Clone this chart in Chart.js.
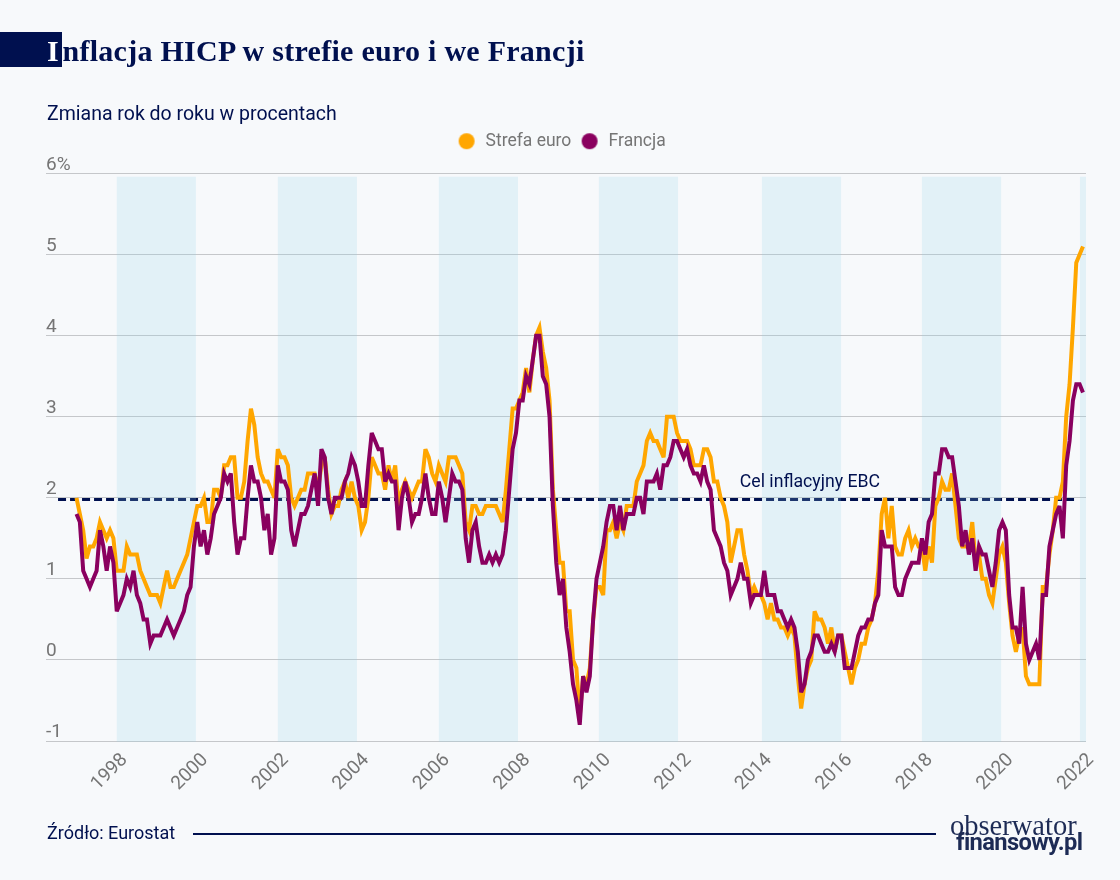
<!DOCTYPE html>
<html lang="pl">
<head>
<meta charset="utf-8">
<title>Inflacja HICP</title>
<script src="https://cdn.jsdelivr.net/npm/chart.js@4"></script>
<style>
  html, body { margin: 0; padding: 0; background: #f7f9fb; }
  #page { position: relative; width: 1120px; height: 880px; overflow: hidden; }
  #chart { position: absolute; left: 0; top: 0; }
  .txt { position: absolute; white-space: nowrap; color: #00104f; }
  #marker { position: absolute; left: 0; top: 32px; width: 62px; height: 35px; background: #00104f; }
  #title { left: 47px; top: 32px; font: bold 30px/38px "Liberation Serif", serif; letter-spacing: 0.27px; }
  #title span { color: #fff; margin-right: 3.5px; }
  #subtitle { left: 47px; top: 102px; font: 19.5px/24px Roboto, sans-serif; }
  #source { left: 47px; top: 822px; font: 18px/22px Roboto, sans-serif; }
  #rule { position: absolute; left: 193px; top: 833px; width: 743px; height: 1.5px; background: #00104f; }
  #logo1 { left: 950px; top: 812px; font: 28.5px/28px "Liberation Serif", serif; color: #1d2b55; }
  #logo2 { left: 956px; top: 828px; font: bold 23.7px/28px "Roboto", sans-serif; color: #1d2b55; letter-spacing: -0.6px; }
</style>
</head>
<body>
<div id="page">
  <canvas id="chart" width="1120" height="880"></canvas>
  <div id="marker"></div>
  <div class="txt" id="title"><span>I</span>nflacja HICP w strefie euro i we Francji</div>
  <div class="txt" id="subtitle">Zmiana rok do roku w procentach</div>
  <div class="txt" id="source">Źródło: Eurostat</div>
  <div id="rule"></div>
  <div class="txt" id="logo1">obserwator</div>
  <div class="txt" id="logo2">finansowy.pl</div>
</div>
<script>
// Monthly values from Jan 1997 to Jan 2022, one row per year
const euroArea = [
  2.0, 1.8, 1.6, 1.25, 1.4, 1.4, 1.5, 1.7, 1.6, 1.5, 1.6, 1.5,
  1.1, 1.1, 1.1, 1.4, 1.3, 1.3, 1.3, 1.1, 1.0, 0.9, 0.8, 0.8,
  0.8, 0.7, 0.9, 1.1, 0.9, 0.9, 1.0, 1.1, 1.2, 1.3, 1.5, 1.7,
  1.9, 1.9, 2.0, 1.7, 1.7, 2.1, 2.1, 2.0, 2.4, 2.4, 2.5, 2.5,
  2.0, 2.0, 2.2, 2.7, 3.1, 2.9, 2.5, 2.3, 2.2, 2.2, 2.1, 2.0,
  2.6, 2.5, 2.5, 2.4, 2.0, 1.9, 2.0, 2.1, 2.1, 2.3, 2.3, 2.3,
  2.1, 2.4, 2.5, 2.1, 1.8, 1.9, 1.9, 2.1, 2.2, 2.0, 2.2, 2.0,
  1.9, 1.6, 1.7, 2.0, 2.5, 2.4, 2.3, 2.3, 2.1, 2.4, 2.2, 2.4,
  1.9, 2.1, 2.2, 2.1, 2.0, 2.1, 2.2, 2.2, 2.6, 2.5, 2.3, 2.2,
  2.4, 2.3, 2.2, 2.5, 2.5, 2.5, 2.4, 2.3, 1.7, 1.6, 1.9, 1.9,
  1.8, 1.8, 1.9, 1.9, 1.9, 1.9, 1.8, 1.7, 2.1, 2.6, 3.1, 3.1,
  3.2, 3.3, 3.6, 3.3, 3.7, 4.0, 4.1, 3.8, 3.6, 3.2, 2.1, 1.6,
  1.2, 1.2, 0.6, 0.6, 0.0, -0.1, -0.7, -0.2, -0.3, -0.1, 0.5, 0.9,
  0.9, 0.8, 1.6, 1.6, 1.7, 1.5, 1.7, 1.6, 1.9, 1.9, 1.9, 2.2,
  2.3, 2.4, 2.7, 2.8, 2.7, 2.7, 2.6, 2.5, 3.0, 3.0, 3.0, 2.8,
  2.7, 2.7, 2.7, 2.6, 2.4, 2.4, 2.4, 2.6, 2.6, 2.5, 2.2, 2.2,
  2.0, 1.9, 1.7, 1.2, 1.4, 1.6, 1.6, 1.3, 1.1, 0.8, 0.9, 0.8,
  0.8, 0.7, 0.5, 0.7, 0.5, 0.5, 0.4, 0.4, 0.3, 0.4, 0.3, -0.2,
  -0.6, -0.3, -0.1, 0.0, 0.6, 0.5, 0.5, 0.4, 0.2, 0.4, 0.1, 0.3,
  0.3, 0.1, -0.1, -0.3, -0.1, 0.0, 0.2, 0.2, 0.4, 0.5, 0.7, 1.1,
  1.8, 2.0, 1.5, 1.9, 1.4, 1.3, 1.3, 1.5, 1.6, 1.4, 1.5, 1.4,
  1.4, 1.1, 1.4, 1.2, 1.9, 2.0, 2.2, 2.1, 2.1, 2.3, 1.9, 1.5,
  1.4, 1.4, 1.4, 1.7, 1.2, 1.3, 1.0, 1.0, 0.8, 0.7, 1.0, 1.3,
  1.4, 1.2, 0.7, 0.3, 0.1, 0.3, 0.4, -0.2, -0.3, -0.3, -0.3, -0.3,
  0.9, 0.9, 1.3, 1.6, 2.0, 2.0, 2.2, 3.0, 3.4, 4.1, 4.9, 5.0,
  5.1
];
const france = [
  1.8, 1.7, 1.1, 1.0, 0.9, 1.0, 1.1, 1.6, 1.4, 1.1, 1.4, 1.2,
  0.6, 0.7, 0.8, 1.0, 0.9, 1.1, 0.8, 0.7, 0.5, 0.5, 0.2, 0.3,
  0.3, 0.3, 0.4, 0.5, 0.4, 0.3, 0.4, 0.5, 0.6, 0.8, 0.9, 1.4,
  1.7, 1.4, 1.6, 1.3, 1.5, 1.8, 1.9, 2.0, 2.3, 2.2, 2.3, 1.7,
  1.3, 1.5, 1.5, 2.0, 2.4, 2.2, 2.2, 2.0, 1.6, 1.8, 1.3, 1.5,
  2.4, 2.2, 2.2, 2.1, 1.6, 1.4, 1.6, 1.8, 1.8, 1.9, 2.1, 2.3,
  1.9, 2.6, 2.5, 2.0, 1.8, 2.0, 2.0, 2.0, 2.2, 2.3, 2.5, 2.4,
  2.2, 1.9, 1.9, 2.4, 2.8, 2.7, 2.6, 2.6, 2.2, 2.3, 2.2, 2.2,
  1.6, 2.0, 2.2, 2.0, 1.7, 1.8, 1.8, 2.0, 2.3, 2.0, 1.8, 1.8,
  2.2, 2.0, 1.7, 2.0, 2.3, 2.2, 2.2, 2.1, 1.5, 1.2, 1.6, 1.7,
  1.4, 1.2, 1.2, 1.3, 1.2, 1.3, 1.2, 1.3, 1.6, 2.1, 2.6, 2.8,
  3.2, 3.2, 3.5, 3.4, 3.7, 4.0, 4.0, 3.5, 3.4, 3.0, 1.9, 1.2,
  0.8, 1.0, 0.4, 0.1, -0.3, -0.5, -0.8, -0.2, -0.4, -0.2, 0.5, 1.0,
  1.2, 1.4, 1.7, 1.9, 1.9, 1.6, 1.9, 1.6, 1.8, 1.8, 1.8, 2.0,
  2.0, 1.8, 2.2, 2.2, 2.2, 2.3, 2.1, 2.4, 2.4, 2.5, 2.7, 2.7,
  2.6, 2.5, 2.6, 2.4, 2.3, 2.3, 2.2, 2.4, 2.2, 2.1, 1.6, 1.5,
  1.4, 1.2, 1.1, 0.8, 0.9, 1.0, 1.2, 1.0, 1.0, 0.7, 0.8, 0.8,
  0.8, 1.1, 0.8, 0.8, 0.8, 0.6, 0.6, 0.5, 0.4, 0.5, 0.4, 0.1,
  -0.4, -0.3, 0.0, 0.1, 0.3, 0.3, 0.2, 0.1, 0.1, 0.2, 0.1, 0.3,
  0.3, -0.1, -0.1, -0.1, 0.1, 0.3, 0.4, 0.4, 0.5, 0.5, 0.7, 0.8,
  1.6, 1.4, 1.4, 1.4, 0.9, 0.8, 0.8, 1.0, 1.1, 1.2, 1.2, 1.2,
  1.5, 1.3, 1.7, 1.8, 2.3, 2.3, 2.6, 2.6, 2.5, 2.5, 2.2, 1.9,
  1.4, 1.6, 1.3, 1.5, 1.1, 1.4, 1.3, 1.3, 1.1, 0.9, 1.2, 1.6,
  1.7, 1.6, 0.8, 0.4, 0.4, 0.2, 0.9, 0.2, 0.0, 0.1, 0.2, 0.0,
  0.8, 0.8, 1.4, 1.6, 1.8, 1.9, 1.5, 2.4, 2.7, 3.2, 3.4, 3.4,
  3.3
];

// x axis works in months counted from Jan 1997
const yearMonths = [12, 36, 60, 84, 108, 132, 156, 180, 204, 228, 252, 276, 300];
const yearLabels = ['1998', '2000', '2002', '2004', '2006', '2008', '2010', '2012', '2014', '2016', '2018', '2020', '2022'];
const bandStarts = [12, 60, 108, 155.7, 204.3, 252, 299.1];
const bandEnds = [35.6, 83.6, 131.6, 179.3, 227.9, 275.6, 300.9];
const targetMonths = [-5.5, 297.4];
const targetValues = [1.98, 1.98];
const seriesNames = ['Strefa euro', 'Francja'];
const targetLabel = 'Cel inflacyjny EBC';

const toPoints = values => values.map((v, i) => ({ x: i, y: v }));

// Legend dot as a small canvas, so the gap to the text can be set apart from its size
function legendDot(color) {
  const dot = document.createElement('canvas');
  dot.width = 18;
  dot.height = 18;
  const c = dot.getContext('2d');
  c.fillStyle = color;
  c.beginPath();
  c.arc(9, 9, 8, 0, Math.PI * 2);
  c.fill();
  return dot;
}

// Shaded bands sit above the dashed target line but under both series
const bandsPlugin = {
  id: 'bands',
  beforeDatasetsDraw(chart) {
    chart.ctx.miterLimit = 4;
  },
  beforeDatasetDraw(chart, args) {
    if (args.index !== 0) return;
    const { ctx, scales: { x, y } } = chart;
    const top = y.getPixelForValue(5.96);
    const bottom = y.getPixelForValue(-1.01);
    ctx.save();
    ctx.fillStyle = 'rgba(145, 210, 235, 0.2)';
    bandStarts.forEach((start, i) => {
      const left = x.getPixelForValue(start);
      ctx.fillRect(left, top, x.getPixelForValue(bandEnds[i]) - left, bottom - top);
    });
    ctx.restore();
  }
};

const targetLabelPlugin = {
  id: 'targetLabel',
  afterDatasetsDraw(chart) {
    const { ctx, scales: { x, y } } = chart;
    ctx.save();
    ctx.font = '17.7px Roboto, sans-serif';
    ctx.fillStyle = '#00104f';
    ctx.textAlign = 'center';
    ctx.textBaseline = 'middle';
    ctx.fillText(targetLabel, x.getPixelForValue(218.6), y.getPixelForValue(2.19));
    ctx.restore();
  }
};

// Extra room under the legend, its padding option also sets the gap between items
const legendSpacePlugin = {
  id: 'legendSpace',
  beforeLayout(chart) {
    const legend = chart.legend;
    if (legend.spaced) return;
    legend.spaced = true;
    const fit = legend.fit;
    legend.fit = function() {
      fit.call(this);
      this.height += 13.5;
    };
  },
  // legend is centred over the plot, the reference has it a bit further left
  afterLayout(chart) {
    chart.legend.left -= 5;
    chart.legend.right -= 5;
  }
};

new Chart(document.getElementById('chart'), {
  type: 'line',
  data: {
    datasets: [
      {
        label: seriesNames[0],
        data: toPoints(euroArea),
        borderColor: '#ffa600',
        backgroundColor: '#ffa600',
        borderWidth: 4,
        pointRadius: 0,
        pointStyle: legendDot('#ffa600'),
        order: 2
      },
      {
        label: seriesNames[1],
        data: toPoints(france),
        borderColor: '#8a005f',
        backgroundColor: '#8a005f',
        borderWidth: 4,
        pointRadius: 0,
        pointStyle: legendDot('#8a005f'),
        order: 1
      },
      {
        label: targetLabel,
        data: targetMonths.map((m, i) => ({ x: m, y: targetValues[i] })),
        borderColor: '#00104f',
        borderWidth: 3,
        borderDash: [8, 4],
        pointRadius: 0,
        order: 3
      }
    ]
  },
  plugins: [bandsPlugin, targetLabelPlugin, legendSpacePlugin],
  options: {
    responsive: false,
    animation: false,
    devicePixelRatio: 1,
    layout: {
      padding: { left: 46, right: 34, top: 124.5, bottom: 79 }
    },
    plugins: {
      tooltip: { enabled: false },
      legend: {
        display: true,
        position: 'top',
        labels: {
          usePointStyle: true,
          pointStyleWidth: 20.5,
          padding: 8,
          color: '#757575',
          font: { family: 'Roboto, sans-serif', size: 17.5 },
          filter: item => item.datasetIndex < 2,
          sort: (a, b) => a.datasetIndex - b.datasetIndex
        }
      }
    },
    scales: {
      x: {
        type: 'linear',
        min: -9.09,
        max: 300.9,
        border: { display: false },
        grid: { display: false },
        afterBuildTicks: axis => { axis.ticks = yearMonths.map(v => ({ value: v })); },
        afterFit: axis => { axis.height = 60; },
        ticks: {
          autoSkip: false,
          minRotation: 45,
          maxRotation: 45,
          padding: 0,
          labelOffset: 8,
          color: '#757575',
          font: { family: 'Roboto, sans-serif', size: 19 },
          callback: value => yearLabels[yearMonths.indexOf(value)]
        }
      },
      y: {
        min: -1,
        max: 6,
        border: { display: false },
        grid: { color: '#c5c7ca', lineWidth: 1, drawTicks: false },
        afterFit: axis => { axis.width = 0; },
        ticks: {
          stepSize: 1,
          mirror: true,
          padding: 0,
          labelOffset: -8.5,
          color: '#757575',
          font: { family: 'Roboto, sans-serif', size: 19 },
          callback: value => (value === 6 ? '6%' : value)
        }
      }
    }
  }
});
</script>
</body>
</html>
